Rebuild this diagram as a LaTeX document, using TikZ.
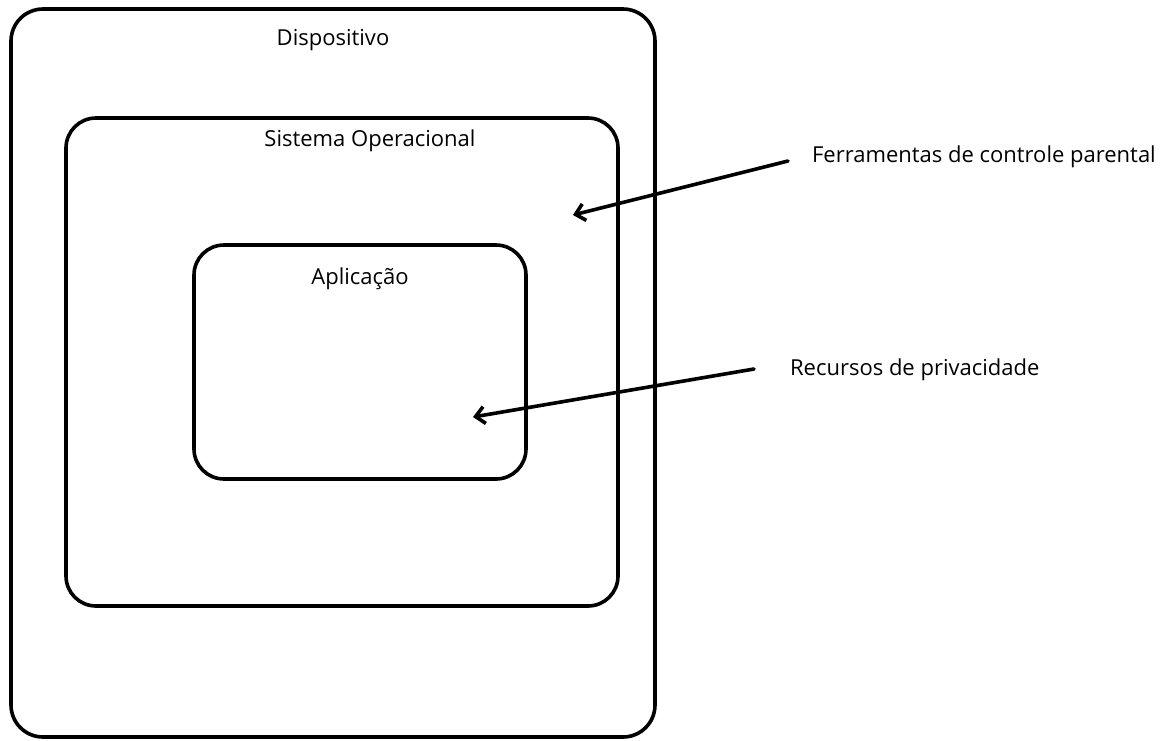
\documentclass[tikz,border=0pt]{standalone}
\usepackage{fontspec}
\setmainfont{Open Sans}
\usetikzlibrary{arrows.meta, positioning}

\begin{document}
\begin{tikzpicture}[x=1pt, y=-1pt, >={Straight Barb[length=9pt,width=17pt]}, line width=3.6pt,
    box/.style={draw, rectangle, rounded corners=32pt},
    lbl/.style={font=\fontsize{22}{26}\selectfont}]
    \useasboundingbox (0,0) rectangle (1170,740);

    % Nested layers
    \node [box, minimum width=644pt, minimum height=728pt] (disp) at (333,373) {};
    \node [box, minimum width=552pt, minimum height=488pt, rounded corners=30pt] (so) at (342,362) {};
    \node [box, minimum width=332pt, minimum height=234pt, rounded corners=30pt] (app) at (360,362) {};

    % Layer labels
    \node [lbl] at ([yshift=-33pt]disp.north) {Dispositivo};
    \node [lbl] at ([xshift=28pt, yshift=-25pt]so.north) {Sistema Operacional};
    \node [lbl] at ([yshift=-36pt]app.north) {Aplicação};

    % Side notes
    \node [lbl, anchor=west] (ferr) at (807,157) {Ferramentas de controle parental};
    \node [lbl, anchor=west] (recu) at (785,370) {Recursos de privacidade};
    \coordinate (tipso) at (573,215);
    \coordinate (tipapp) at (473,417);

    % Arrows
    \draw [->, line cap=round] ([xshift=-19pt, yshift=-4pt]ferr.west) -- (tipso);
    \draw [->, line cap=round] ([xshift=-31pt, yshift=1pt]recu.west) -- (tipapp);
\end{tikzpicture}
\end{document}
